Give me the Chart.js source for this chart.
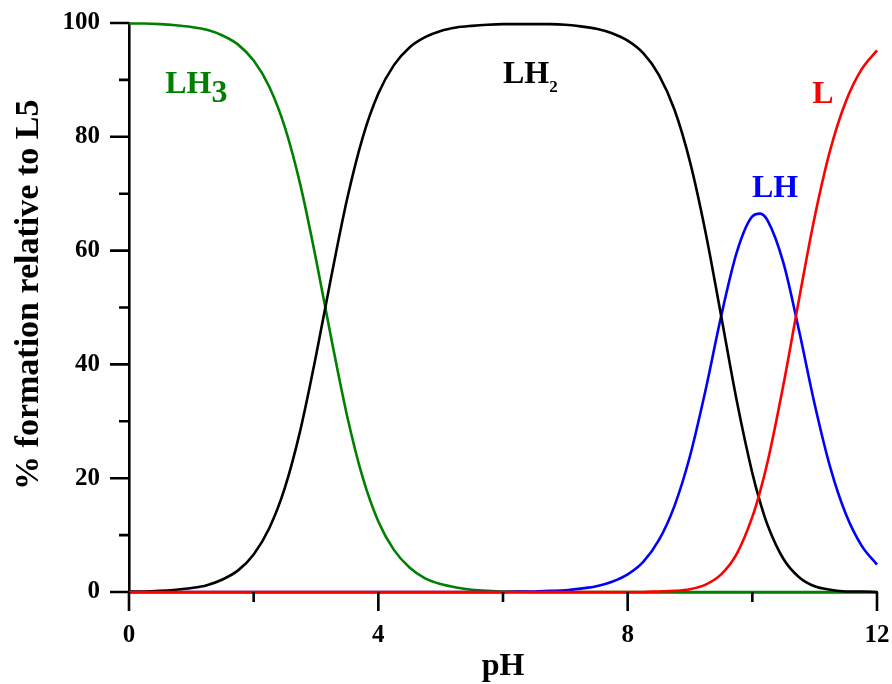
<!DOCTYPE html>
<html>
<head>
<meta charset="utf-8">
<script src="https://cdn.jsdelivr.net/npm/chart.js@4.4.1/dist/chart.umd.min.js"></script>
<style>
html,body{margin:0;padding:0;background:#fff;}
canvas{display:block;}
</style>
</head>
<body>
<canvas id="c" width="892" height="684"></canvas>
<script>
// pH grid and % formation
const pH=[0,0.25,0.5,0.75,1,1.25,1.5,1.75,2,2.25,2.5,2.75,3,3.25,3.5,3.75,4,4.25,4.5,4.75,5,5.25,5.5,5.75,6,
  6.25,6.5,6.75,7,7.25,7.5,7.75,8,8.25,8.5,8.75,9,9.25,9.5,9.75,10,10.125,10.25,10.5,10.75,11,11.25,11.5,11.75,12];
const LH3=[99.9,99.9,99.8,99.6,99.3,98.8,97.8,96.2,93.4,88.8,81.7,71.5,58.5,44.3,30.9,20.1,12.4,7.4,4.3,2.4,1.4,0.8,0.4,0.2,0.1,
  0.1,0,0,0,0,0,0,0,0,0,0,0,0,0,0,0,0,0,0,0,0,0,0,0,0];
const LH2=[0.1,0.1,0.2,0.4,0.7,1.2,2.2,3.8,6.6,11.2,18.3,28.5,41.5,55.7,69.1,79.9,87.6,92.6,95.7,97.5,98.6,99.2,99.5,99.7,99.8,
  99.8,99.8,99.8,99.7,99.4,99.0,98.2,96.9,94.7,90.9,84.8,75.6,63.2,48.5,33.6,20.9,15.8,11.6,5.8,2.6,1.0,0.4,0.1,0.1,0];
const LH=[0,0,0,0,0,0,0,0,0,0,0,0,0,0,0,0,0,0,0,0,0,0,0,0,0,
  0.1,0.1,0.2,0.3,0.6,1.0,1.8,3.1,5.3,9.1,15.1,23.9,35.5,48.5,59.7,66.0,66.5,65.2,57.8,45.9,33.0,21.9,13.7,8.2,4.8];
const L=[0,0,0,0,0,0,0,0,0,0,0,0,0,0,0,0,0,0,0,0,0,0,0,0,0,
  0,0,0,0,0,0,0,0,0,0.1,0.2,0.5,1.3,3.1,6.7,13.2,17.7,23.1,36.5,51.5,65.9,77.7,86.2,91.8,95.2];

const xTicks=[0,4,8,12], xMinor=[2,6,10];
const yTicks=[0,20,40,60,80,100], yMinor=[10,30,50,70,90];

const FONT="'Liberation Serif','Times New Roman',serif";
const pts=a=>pH.map((x,i)=>({x,y:a[i]}));
const line=(label,data,color)=>({label,data:pts(data),borderColor:color,borderWidth:2.6,
  pointRadius:0,fill:false,cubicInterpolationMode:'monotone',clip:false});

// outward tick marks, long for labelled values, short between
const tickMarks={
  id:'tickMarks',
  afterDraw(chart){
    const {ctx,chartArea:a,scales:{x,y}}=chart;
    ctx.save();
    ctx.strokeStyle='#000';ctx.lineWidth=2.6;
    ctx.beginPath();
    xTicks.forEach(v=>{const p=x.getPixelForValue(v);ctx.moveTo(p,a.bottom);ctx.lineTo(p,a.bottom+19);});
    xMinor.forEach(v=>{const p=x.getPixelForValue(v);ctx.moveTo(p,a.bottom);ctx.lineTo(p,a.bottom+10);});
    yTicks.forEach(v=>{const p=y.getPixelForValue(v);ctx.moveTo(a.left,p);ctx.lineTo(a.left-19,p);});
    yMinor.forEach(v=>{const p=y.getPixelForValue(v);ctx.moveTo(a.left,p);ctx.lineTo(a.left-10,p);});
    ctx.stroke();
    ctx.restore();
  }
};

// species names beside their curves
const curveLabels={
  id:'curveLabels',
  afterDatasetsDraw(chart){
    const {ctx,scales:{x,y}}=chart;
    const items=[
      {t:'LH',sub:'3',px:0.58,py:87.7,c:'#008000',subSize:32,subDy:9},
      {t:'LH',sub:'2',px:6.0,py:89.5,c:'#000000',subSize:17,subDy:9},
      {t:'LH',sub:'',px:9.995,py:69.4,c:'#0000ff'},
      {t:'L',sub:'',px:10.96,py:85.9,c:'#ff0000'}
    ];
    ctx.save();
    ctx.textBaseline='alphabetic';ctx.textAlign='left';
    items.forEach(it=>{
      const X=x.getPixelForValue(it.px),Y=y.getPixelForValue(it.py);
      ctx.fillStyle=it.c;
      ctx.font='bold 32px '+FONT;
      ctx.fillText(it.t,X,Y);
      if(it.sub){
        const w=ctx.measureText(it.t).width;
        ctx.font='bold '+it.subSize+'px '+FONT;
        ctx.fillText(it.sub,X+w,Y+it.subDy);
      }
    });
    ctx.restore();
  }
};

new Chart(document.getElementById('c'),{
  type:'line',
  data:{datasets:[
    line('L',L,'#ff0000'),
    line('LH2',LH2,'#000000'),
    line('LH',LH,'#0000ff'),
    line('LH3',LH3,'#008000')
  ]},
  options:{
    responsive:false,
    animation:false,
    devicePixelRatio:1,
    layout:{padding:{top:23,right:15,left:0,bottom:0}},
    plugins:{legend:{display:false},tooltip:{enabled:false}},
    scales:{
      x:{
        type:'linear',min:0,max:12,
        afterBuildTicks:s=>{s.ticks=xTicks.map(v=>({value:v}));},
        afterFit:s=>{s.height=92;s.paddingLeft=0;s.paddingRight=0;},
        grid:{display:true,drawOnChartArea:false,drawTicks:false},
        border:{display:true,color:'#000',width:2.6},
        ticks:{color:'#000',padding:29,maxRotation:0,font:{family:FONT,size:25,weight:'bold'}},
        title:{display:true,text:'pH',color:'#000',padding:{top:0,bottom:1},
          font:{family:FONT,size:32,weight:'bold',lineHeight:1}}
      },
      y:{
        type:'linear',min:0,max:100,
        afterBuildTicks:s=>{s.ticks=yTicks.map(v=>({value:v}));},
        afterFit:s=>{s.width=129;s.paddingTop=0;s.paddingBottom=0;},
        grid:{display:true,drawOnChartArea:false,drawTicks:false},
        border:{display:true,color:'#000',width:2.6},
        ticks:{color:'#000',padding:29,font:{family:FONT,size:25,weight:'bold'}},
        title:{display:true,text:'   % formation relative to L5',color:'#000',padding:{top:9,bottom:0},
          font:{family:FONT,size:34,weight:'bold',lineHeight:1.2}}
      }
    }
  },
  plugins:[tickMarks,curveLabels]
});
</script>
</body>
</html>
